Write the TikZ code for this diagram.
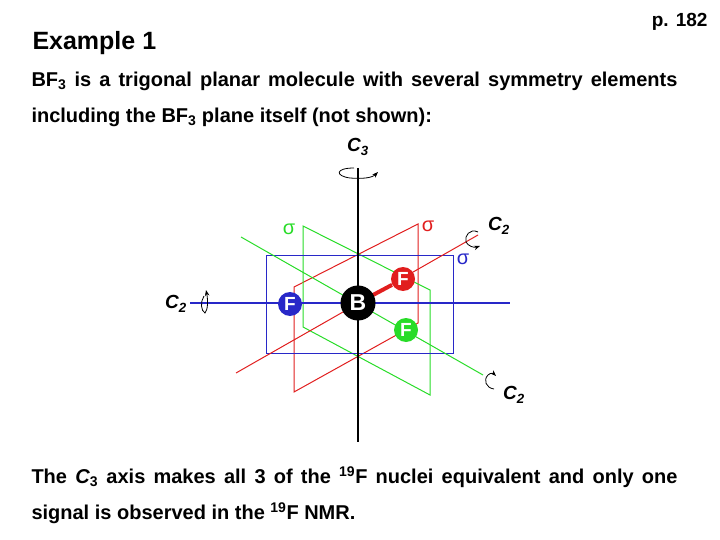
\documentclass[tikz,border=0pt]{standalone}
\usepackage{fontspec}
\setmainfont{Liberation Sans}
\usetikzlibrary{arrows.meta}
\definecolor{myblue}{RGB}{40,40,200}
\definecolor{myred}{RGB}{225,30,30}
\definecolor{mygreen}{RGB}{40,220,40}
\begin{document}
\begin{tikzpicture}[x=1pt,y=-1pt,font=\bfseries,line width=1pt,
  txt/.style={anchor=west,inner sep=0pt,font=\fontsize{20}{22}\bfseries},
  atom/.style={circle,inner sep=0pt,text=white,font=\fontsize{19}{20}\bfseries},
  lab/.style={font=\fontsize{19}{21}\bfseries\itshape},
  sig/.style={font=\fontsize{20}{22}\selectfont},
  rot/.style={line width=0.8pt,-{Stealth[length=6pt]}}]
\useasboundingbox (0,0) rectangle (720,540);
\node[anchor=west,inner sep=0pt,font=\fontsize{25}{28}\bfseries] (title) at (32,43) {Example 1};
\node[anchor=east,inner sep=0pt,font=\fontsize{19}{21}\bfseries] (page) at (708,22) {p. 182};
\node[txt] (l1) at (31,81) {\makebox[646pt][s]{BF\textsubscript{3} is a trigonal planar molecule with several symmetry elements}};
\node[txt] (l2) at (31,117) {including the BF\textsubscript{3} plane itself (not shown):};
\node[txt] (l3) at (31,477) {\makebox[646pt][s]{The \textit{C}\textsubscript{3} axis makes all 3 of the \textsuperscript{19}F nuclei equivalent and only one}};
\node[txt] (l4) at (31,513) {signal is observed in the \textsuperscript{19}F NMR.};
% planes
\draw[myred] (294,287) -- (418,224) -- (418,323) -- (294,392) -- cycle;
\draw[mygreen] (303,226) -- (430,290) -- (430,395) -- (303,327) -- cycle;
\draw[myblue] (266,255) rectangle (453,353);
% axes
\coordinate (ct) at (358,168); \coordinate (cb) at (358,442);
\draw[black,line width=1.2pt] (ct) -- (cb);
\coordinate (hl) at (190,303); \coordinate (hr) at (510,303);
\draw[myblue,line width=1.2pt] (hl) -- (hr);
\coordinate (rl) at (236,373); \coordinate (rr) at (478,235);
\draw[myred] (rl) -- (rr);
\coordinate (gl) at (241,237); \coordinate (gr) at (483,375);
\draw[mygreen] (gl) -- (gr);
% atoms
\node[atom,fill=myred,minimum size=24pt] (Fr) at (403,279) {F};
\node[atom,fill=myblue,minimum size=24pt] (Fb) at (290,304) {F};
\node[atom,fill=mygreen,minimum size=24pt] (Fg) at (406,330) {F};
\draw[myred,line width=4pt] (Fr) -- (358,303);
\node[atom,fill=black,minimum size=35pt,font=\fontsize{23}{24}\bfseries] (B) at (358,303) {B};
% labels
\node[lab] (c3) at (358,147) {C\textsubscript{3}};
\node[lab] (c2a) at (176,304) {C\textsubscript{2}};
\node[lab] (c2b) at (499,226) {C\textsubscript{2}};
\node[lab] (c2c) at (514,395) {C\textsubscript{2}};
\node[mygreen,sig] (sg) at (289,229) {σ};
\node[myred,sig] (sr) at (428,226) {σ};
\node[myblue,sig] (sb) at (463,259) {σ};
% rotation arrows
\draw[rot] (354,168) .. controls (335,168) and (335,176) .. (350,178) .. controls (362,179) and (372,178) .. (378,172);
\draw[rot] (204,296) .. controls (200,302) and (201,311) .. (205,313) .. controls (208,310) and (208,300) .. (206,290);
\draw[rot] (478,232) .. controls (470,228) and (464,236) .. (466,242) .. controls (468,246) and (474,248) .. (480,246);
\draw[rot] (494,389) .. controls (486,388) and (483,380) .. (488,375) .. controls (491,372) and (494,374) .. (496,376);
\end{tikzpicture}
\end{document}
